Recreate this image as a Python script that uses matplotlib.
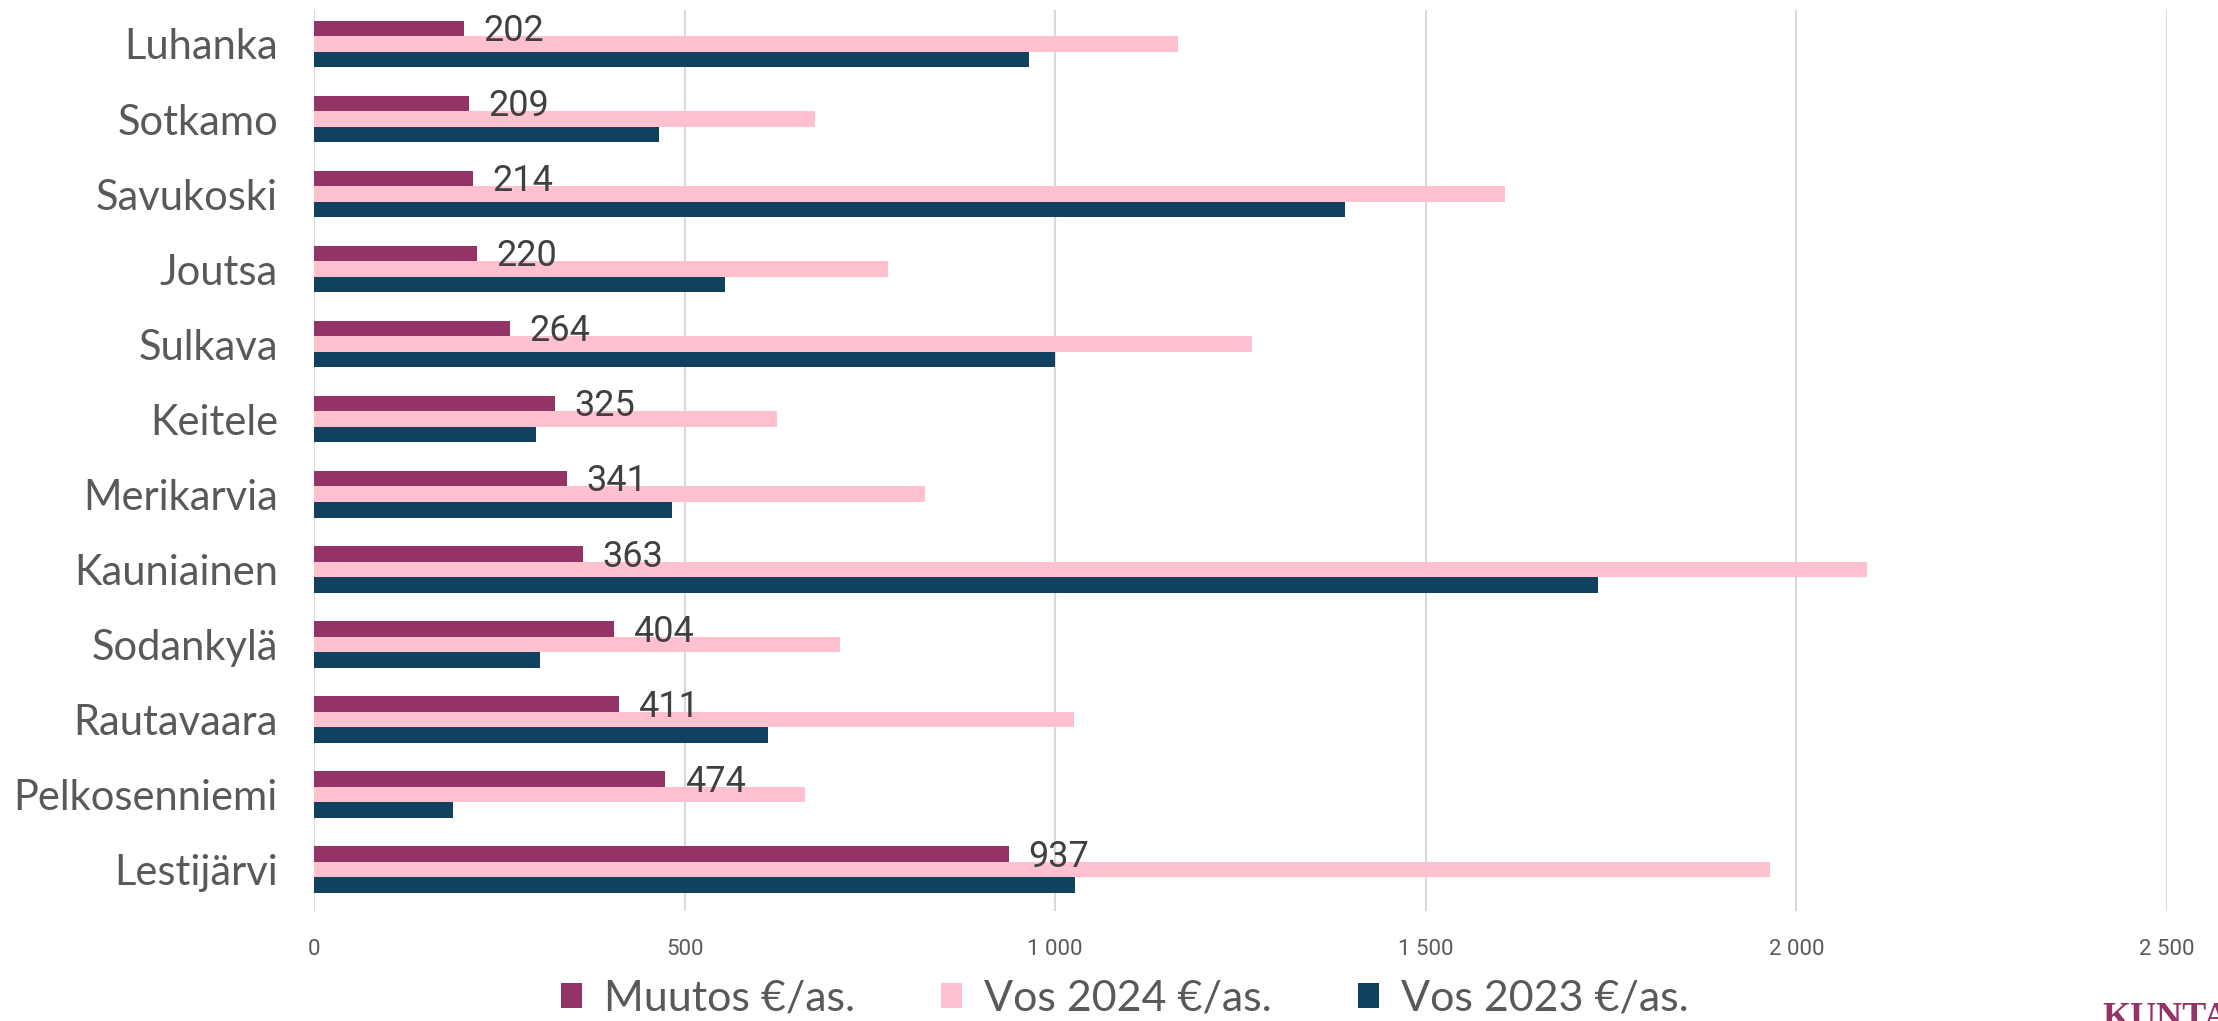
import matplotlib
matplotlib.use("Agg")
import matplotlib.pyplot as plt
import numpy as np

# data (euro per resident)
municipalities = ["Luhanka", "Sotkamo", "Savukoski", "Joutsa", "Sulkava", "Keitele",
                  "Merikarvia", "Kauniainen", "Sodankylä", "Rautavaara", "Pelkosenniemi",
                  "Lestijärvi"]
muutos = [202, 209, 214, 220, 264, 325, 341, 363, 404, 411, 474, 937]
vos_2024 = [1166, 676, 1607, 775, 1265, 624, 824, 2095, 710, 1025, 662, 1965]
vos_2023 = [964, 466, 1391, 555, 1000, 300, 483, 1732, 305, 613, 187, 1026]
x_ticks = [0, 500, 1000, 1500, 2000, 2500]
x_tick_labels = ["0", "500", "1 000", "1 500", "2 000", "2 500"]

c_muutos = "#933366"
c_2024 = "#FFC0CF"
c_2023 = "#12405F"
text_grey = "#595959"

fig = plt.figure(figsize=(22.18, 10.21), dpi=100)
ax = fig.add_axes([0.1416, 0.108, 0.9770 - 0.1416, 0.882])

y = np.arange(len(municipalities))
h = 0.207
ax.barh(y - h, muutos, height=h, color=c_muutos, label="Muutos €/as.")
ax.barh(y, vos_2024, height=h, color=c_2024, label="Vos 2024 €/as.")
ax.barh(y + h, vos_2023, height=h, color=c_2023, label="Vos 2023 €/as.")

for yi, v in zip(y, muutos):
    ax.annotate(str(v), xy=(v, yi - h), xytext=(14, -2), textcoords="offset points",
                va="center", ha="left", fontsize=26, color="#404040",
                family=["Liberation Sans Narrow", "Roboto"])

ax.set_xlim(0, 2500)
ax.set_ylim(len(municipalities) - 0.45, -0.45)
ax.set_xticks(x_ticks)
ax.set_xticklabels(x_tick_labels, fontsize=16, color=text_grey, family="Roboto")
ax.set_yticks(y)
ax.set_yticklabels(municipalities, fontsize=30, color=text_grey, family="Lato")
ax.tick_params(axis="both", length=0)
ax.tick_params(axis="x", pad=20)
ax.tick_params(axis="y", pad=26)
ax.xaxis.grid(True, color="#d9d9d9", linewidth=1.5)
ax.set_axisbelow(True)
for s in ax.spines.values():
    s.set_visible(False)

leg = fig.legend(loc="center", bbox_to_anchor=(0.507, 0.022), ncol=3, frameon=False,
                 handlelength=0.5, handleheight=0.5, handletextpad=0.5,
                 columnspacing=2.0, prop={"family": "Lato", "size": 31})
for t in leg.get_texts():
    t.set_color(text_grey)

# logo text, cut by the figure edge as in the source
fig.text(0.948, -0.014, "KUNTALIITTO", fontsize=26, color=c_muutos, family="Liberation Serif",
         fontweight="bold", ha="left", va="bottom")

fig.savefig("out.png", dpi=100)
